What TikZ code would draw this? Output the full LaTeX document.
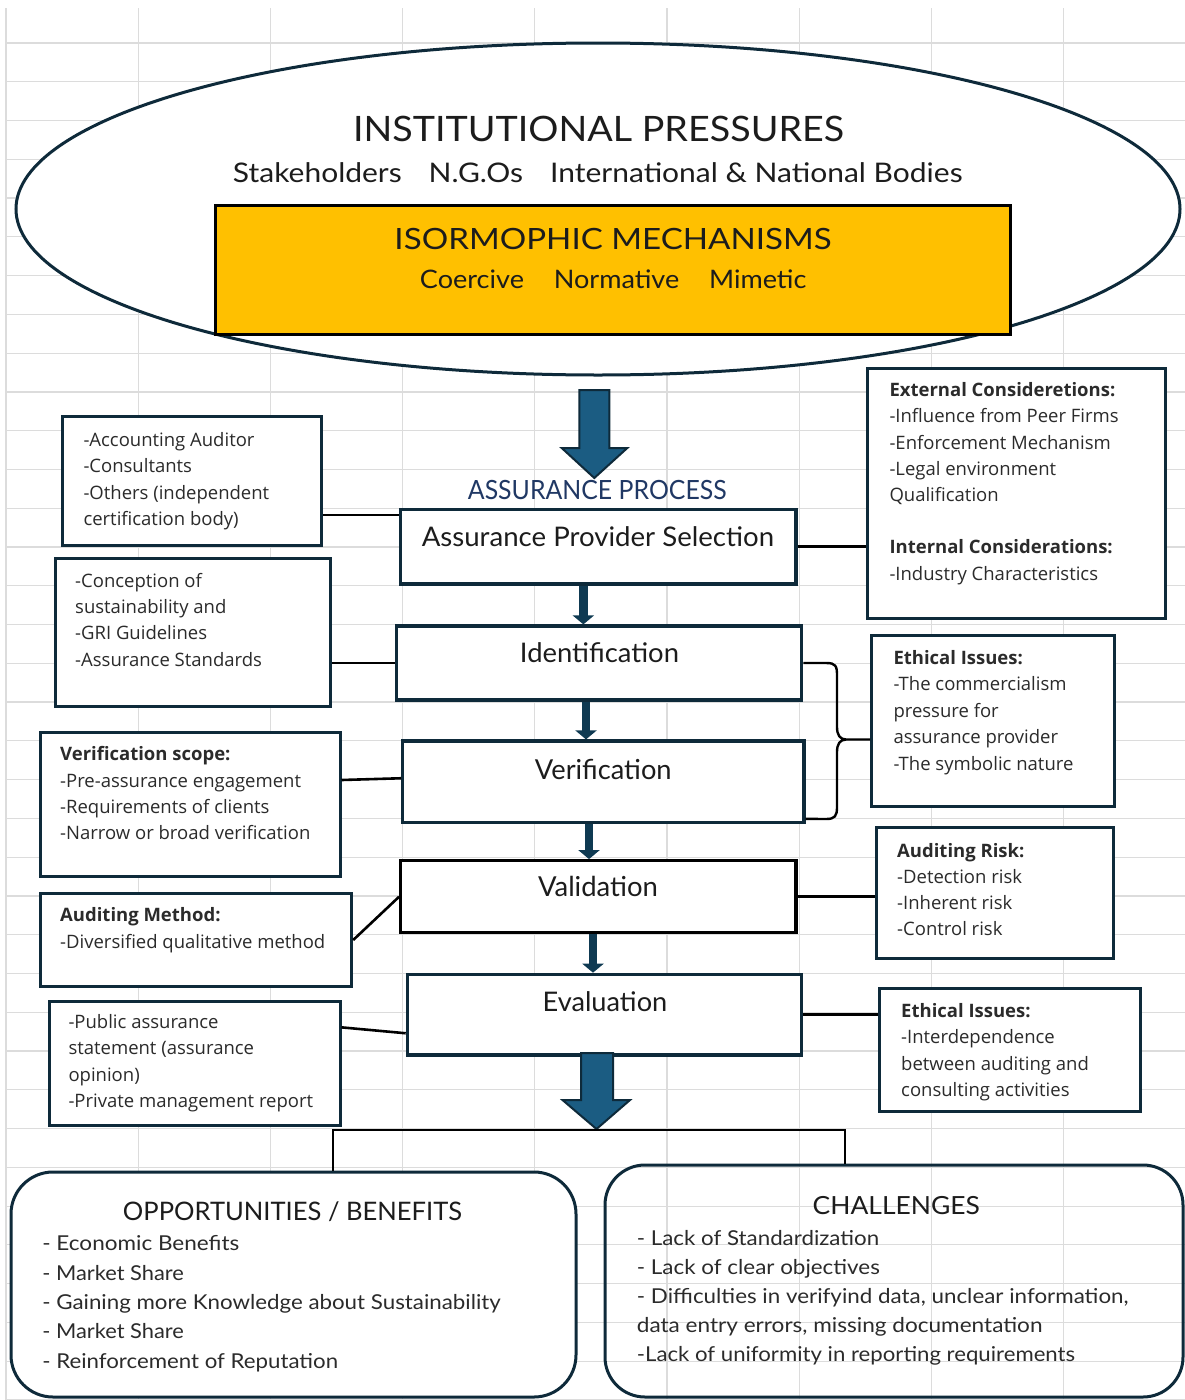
\documentclass[tikz,border=0pt]{standalone}
\usepackage{fontspec}
\usepackage{graphicx}
\setmainfont{Lato}
\newfontfamily\sfont{Open Sans}
\usetikzlibrary{arrows.meta,fit,shapes.geometric}
\definecolor{navy}{HTML}{0E2A3A}
\definecolor{arrowblue}{HTML}{1B5C82}
\definecolor{arrowdark}{HTML}{0F3A52}
\definecolor{txtgray}{HTML}{2B2B2B}
\definecolor{txtdark}{HTML}{1C1C1C}
\definecolor{orangeF}{HTML}{FFC000}
\definecolor{gridgray}{HTML}{DCDCDC}
\definecolor{titleblue}{HTML}{203864}
\newcommand{\fitt}[3]{\resizebox{#1}{\height}{\fontsize{#2}{#2}\selectfont #3}}
\newcommand{\blines}[1]{\begin{tabular}[t]{@{}l@{}}#1\end{tabular}}
\begin{document}
\begin{tikzpicture}[x=1pt,y=-1pt,
  gridline/.style={draw=gridgray,line width=1.2pt},
  sbox/.style={draw=navy,line width=3pt,fill=white,inner sep=0pt},
  pbox/.style={draw=navy,line width=3.2pt,fill=white,inner sep=0pt},
  conn/.style={draw=black,line width=2.6pt},
  stxt/.style={inner sep=0pt,anchor=base west,text=txtgray,font=\sfont\fontsize{18.5}{#1}\selectfont},
  ltxt/.style={inner sep=0pt,anchor=base,text=txtdark},
  ltxtlist/.style={inner sep=0pt,anchor=base west,text=txtgray,font=\fontsize{20.5}{#1}\selectfont},
  smallarrow/.style={draw=arrowdark,line width=8.5pt,-{Triangle[length=9pt,width=21pt]}},
  bigarrow/.style={fill=arrowblue,draw=navy,line width=2pt,line join=miter},
]
\useasboundingbox (0,0) rectangle (1185,1400);
% spreadsheet grid
\foreach \i in {0,...,8} \draw[gridline] ({6+132.2*\i},8) -- ({6+132.2*\i},1400);
\foreach \j in {0,...,35} \draw[gridline] (6,{43+38.77*\j}) -- (1185,{43+38.77*\j});

% institutional pressures
\node[ellipse, draw=navy, line width=3pt, fill=white, minimum width=1164pt, minimum height=332pt, inner sep=0pt] (ell) at (598,209) {};
\node[fit={(215,205) (1010,334)}, draw=black, line width=3pt, fill=orangeF, inner sep=0pt] (iso) {};
\node[ltxt] (tinst) at (598.5,141.7) {\fitt{491pt}{35}{INSTITUTIONAL PRESSURES}};
\node[ltxt] (tstake) at (597.8,182.7) {\fitt{729.6pt}{27}{Stakeholders\hspace{0.9em}N.G.Os\hspace{0.9em}International \& National Bodies}};
\node[ltxt] (tiso) at (613.1,249.3) {\fitt{437.2pt}{29.3}{ISORMOPHIC MECHANISMS}};
\node[ltxt] (tmech) at (613.25,288.3) {\fitt{386.5pt}{25.5}{Coercive\hspace{1.1em}Normative\hspace{1.1em}Mimetic}};

% big arrow 1
\filldraw[bigarrow] (579.3,390) -- (609.3,390) -- (609.3,448) -- (627.3,448) -- (594.3,478) -- (561.7,448) -- (579.3,448) -- cycle;
\node[ltxt, text=titleblue] (tap) at (597.3,499) {\fitt{258.7pt}{26.5}{ASSURANCE PROCESS}};

% process boxes
\node[pbox, fit={(400.7,509.3) (796,584)}] (prov) {};
\node[pbox, fit={(396.7,626) (801.7,700)}] (ident) {};
\node[pbox, fit={(402.7,741) (804,822.7)}] (verif) {};
\node[pbox, draw=black, fit={(400.7,860.7) (796,932.7)}] (valid) {};
\node[pbox, fit={(407.3,974.3) (801.7,1055)}] (eval) {};
\node[ltxt] (tprov) at (597.9,546) {\fitt{352.3pt}{27}{Assurance Provider Selection}};
\node[ltxt] (tident) at (599.5,662.7) {\fitt{159pt}{27}{Identification}};
\node[ltxt] (tverif) at (603.3,779) {\fitt{136.7pt}{27.5}{Verification}};
\node[ltxt] (tvalid) at (598,896.7) {\fitt{120pt}{27.5}{Validation}};
\node[ltxt] (teval) at (605,1011.7) {\fitt{124.6pt}{27}{Evaluation}};

% small arrows
\coordinate (s1) at ([xshift=-15pt]prov.south);
\coordinate (s2) at ([xshift=-13.2pt]ident.south);
\coordinate (s3) at ([xshift=-14.35pt]verif.south);
\coordinate (s4) at ([xshift=-5.35pt]valid.south);
\draw[smallarrow] (s1) -- (s1 |- ident.north);
\draw[smallarrow] (s2) -- (s2 |- verif.north);
\draw[smallarrow] (s3) -- (s3 |- valid.north);
\draw[smallarrow] (s4) -- (s4 |- eval.north);

% left boxes
\node[sbox, fit={(62.7,416.7) (321.7,545)}] (L1) {};
\node[sbox, fit={(55,558.3) (330,706.7)}] (L2) {};
\node[sbox, fit={(40.7,732.7) (340,876.7)}] (L3) {};
\node[sbox, fit={(40.7,893.3) (351.7,986.7)}] (L4) {};
\node[sbox, fit={(49.3,1001.7) (340,1125)}] (L5) {};
\node[stxt=26.5] (tL1) at (83.3,446) {\blines{-Accounting Auditor\\-Consultants\\-Others (independent\\certification body)}};
\node[stxt=26.1] (tL2) at (75,587.7) {\blines{-Conception of\\sustainability and\\-GRI Guidelines\\-Assurance Standards}};
\node[stxt=26.4] (tL3) at (60,760.7) {\blines{\textbf{Verification scope:}\\-Pre-assurance engagement\\-Requirements of clients\\-Narrow or broad verification}};
\node[stxt=27] (tL4) at (60,921.7) {\blines{\textbf{Auditing Method:}\\-Diversified qualitative method}};
\node[stxt=26.5] (tL5) at (68.3,1028.3) {\blines{-Public assurance\\statement (assurance\\opinion)\\-Private management report}};

% right boxes
\node[sbox, fit={(867.3,368.3) (1165,618.3)}] (R1) {};
\node[sbox, fit={(871.7,635) (1114.3,806.7)}] (R2) {};
\node[sbox, fit={(876,827) (1113,958)}] (R3) {};
\node[sbox, fit={(879,988) (1140,1111)}] (R4) {};
\node[stxt=26.2] (tR1) at (889.3,396.7) {\blines{\textbf{External Consideretions:}\\-Influence from Peer Firms\\-Enforcement Mechanism\\-Legal environment\\Qualification\\ \\\textbf{Internal Considerations:}\\-Industry Characteristics}};
\node[stxt=26.5] (tR2) at (893.3,664) {\blines{\textbf{Ethical Issues:}\\-The commercialism\\pressure for\\assurance provider\\-The symbolic nature}};
\node[stxt=26.3] (tR3) at (897,857) {\blines{\textbf{Auditing Risk:}\\-Detection risk\\-Inherent risk\\-Control risk}};
\node[stxt=26.5] (tR4) at (901,1017) {\blines{\textbf{Ethical Issues:}\\-Interdependence\\between auditing and\\consulting activities}};

% connectors
\coordinate (c1) at ([yshift=31.6pt]prov.west);
\draw[conn] (c1) -- (c1 -| L1.east);
\draw[conn] (ident.west) -- (ident.west -| L2.east);
\draw[conn] ([yshift=24.7pt]L3.east) -- ([yshift=3.6pt]verif.west);
\draw[conn] (L4.east) -- (valid.west);
\draw[conn] ([yshift=36pt]L5.east) -- ([yshift=-18.6pt]eval.west);
\draw[conn] (prov.east) -- (prov.east -| R1.west);
\draw[conn] (valid.east) -- (valid.east -| R3.west);
\draw[conn] (eval.east) -- (eval.east -| R4.west);

% brace
\coordinate (btip) at (846,739.5);
\coordinate (bbot) at ([yshift=-37pt]verif.east);
\draw[conn, line width=2.4pt] (ident.east) -- (826,663) .. controls (836,663) and (837,666) .. (837,676) -- (837,727) .. controls (837,735) and (840,739.5) .. (btip) -- (btip -| R2.west);
\draw[conn, line width=2.4pt] (btip) .. controls (840,739.5) and (837,744) .. (837,752) -- (837,807) .. controls (837,816) and (835,819) .. (826,819) -- (bbot);

% big arrow 2
\filldraw[bigarrow] (581,1053) -- (613,1053) -- (613,1100) -- (630,1100) -- (596.5,1129) -- (562.5,1100) -- (581,1100) -- cycle;

% bottom boxes
\node[fit={(11,1172) (576,1397)}, draw=navy, line width=3pt, rounded corners=42pt, fill=white, inner sep=0pt] (B1) {};
\node[fit={(605,1165) (1183,1397)}, draw=navy, line width=3pt, rounded corners=40pt, inner sep=0pt] (B2) {};
\coordinate (brL) at (333,1130);
\coordinate (brR) at (845,1130);
\draw[conn] (brL |- B1.north) -- (brL) -- (brR) -- (brR |- B2.north);

\node[ltxt] (topp) at (292.5,1220) {\fitt{339pt}{25.5}{OPPORTUNITIES / BENEFITS}};
\node[ltxt] (tchal) at (896.3,1214) {\fitt{167.3pt}{25}{CHALLENGES}};
\node[ltxtlist=29.4] (lopp) at (42.1,1250.7) {\blines{\fitt{197pt}{20.5}{- Economic Benefits}\\\fitt{141.6pt}{20.5}{- Market Share}\\\fitt{458.5pt}{20.5}{- Gaining more Knowledge about Sustainability}\\\fitt{141.6pt}{20.5}{- Market Share}\\\fitt{295.8pt}{20.5}{- Reinforcement of Reputation}}};
\node[ltxtlist=29.2] (lchal) at (636.7,1245) {\blines{\fitt{242.2pt}{20.5}{- Lack of Standardization}\\\fitt{243pt}{20.5}{- Lack of clear objectives}\\\fitt{491.7pt}{20.5}{- Difficulties in verifyind data, unclear information,}\\\fitt{405.6pt}{20.5}{data entry errors, missing documentation}\\\fitt{438.2pt}{20.5}{-Lack of uniformity in reporting requirements}}};
\end{tikzpicture}
\end{document}
